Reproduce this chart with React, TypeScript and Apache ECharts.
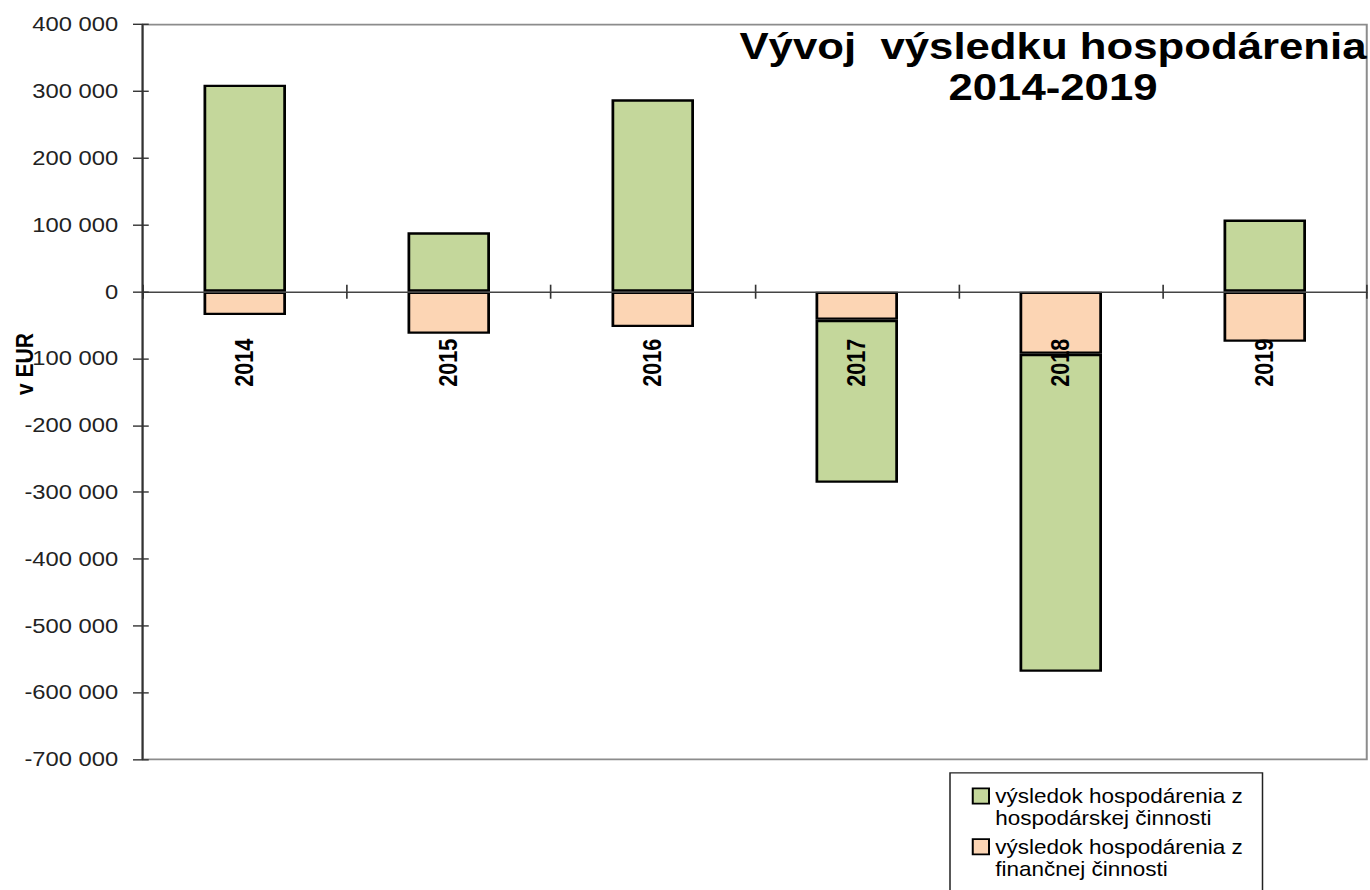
import React, { useEffect, useRef } from "react";
import * as echarts from "echarts";

const years = ["2014", "2015", "2016", "2017", "2018", "2019"];
const hospodarska = [310000, 89000, 288000, -244000, -476000, 108000];
const financna = [-35000, -63000, -53000, -42000, -93000, -75000];
const yMin = -700000;
const yMax = 400000;
const yStep = 100000;
const seriesNames = [
  "výsledok hospodárenia z hospodárskej činnosti",
  "výsledok hospodárenia z finančnej činnosti",
];
const titleLines = ["Vývoj  výsledku hospodárenia", "2014-2019"];
const yAxisTitle = "v EUR";

const FONT = "'Liberation Sans', Arial, sans-serif";
const W = 1096;
const H = 824;
const SX = 1370 / W;
const SY = 890 / H;

const GRID_TOP = 22.7;
const GRID_BOTTOM = 121;
const zeroOffset = () => {
  const h = H - GRID_TOP - GRID_BOTTOM;
  const zeroY = GRID_TOP + (h * (yMax - 0)) / (yMax - yMin);
  return -(H - GRID_BOTTOM - zeroY);
};

const fmt = (v: number) => {
  const s = Math.abs(v)
    .toString()
    .replace(/\B(?=(\d{3})+(?!\d))/g, " ");
  return (v < 0 ? "-" : "") + s;
};

export default function App() {
  const ref = useRef<HTMLDivElement>(null);
  useEffect(() => {
    if (!ref.current) return;
    const chart = echarts.init(ref.current, null, { renderer: "svg", width: W, height: H });
    const tickLine = { color: "#333", width: 1.3 };
    const off = zeroOffset();
    chart.setOption({
      animation: false,
      backgroundColor: "#fff",
      textStyle: { fontFamily: FONT },
      grid: {
        left: 114.2,
        right: 2.6,
        top: GRID_TOP,
        bottom: GRID_BOTTOM,
        show: true,
        borderColor: "#8c8c8c",
        borderWidth: 1.6,
      },
      xAxis: [
        {
          type: "category",
          data: years,
          position: "bottom",
          offset: off,
          z: 5,
          axisLine: { onZero: false, lineStyle: { color: "#444", width: 1.4 } },
          axisTick: { show: true, inside: false, length: 6.5, lineStyle: tickLine },
          axisLabel: {
            rotate: 90,
            margin: 43.5,
            fontSize: 20,
            fontWeight: "bold",
            color: "#000",
            interval: 0,
            fontFamily: FONT,
          },
          splitLine: { show: false },
        },
        {
          type: "category",
          data: years,
          position: "bottom",
          offset: off,
          z: 5,
          axisLine: { show: false, onZero: false },
          axisTick: { show: true, inside: true, length: 6.5, lineStyle: tickLine },
          axisLabel: { show: false },
          splitLine: { show: false },
        },
      ],
      yAxis: [
        {
          type: "value",
          min: yMin,
          max: yMax,
          interval: yStep,
          position: "left",
          z: 5,
          axisLine: { show: true, onZero: false, lineStyle: { color: "#333", width: 1.6 } },
          axisTick: { show: true, length: 7.8, lineStyle: tickLine },
          axisLabel: { formatter: fmt, fontSize: 19, color: "#222", margin: 19.7, fontFamily: FONT },
          splitLine: { show: false },
        },
        {
          type: "value",
          min: yMin,
          max: yMax,
          interval: yStep,
          position: "left",
          z: 5,
          axisLine: { show: false, onZero: false },
          axisTick: { show: true, inside: true, length: 4.8, lineStyle: tickLine },
          axisLabel: { show: false },
          splitLine: { show: false },
        },
      ],
      legend: {
        data: [seriesNames[0], seriesNames[1]],
        orient: "vertical",
        left: 777.4,
        top: 706.25,
        padding: 0,
        itemGap: -14.5,
        itemWidth: 13,
        itemHeight: 14,
        icon: "rect",
        selectedMode: false,
        itemStyle: { borderColor: "#000", borderWidth: 1.6 },
        formatter: (n: string) => "\n" + n.replace(" z ", " z\n"),
        textStyle: {
          fontSize: 18,
          color: "#000",
          lineHeight: 20.5,
          fontFamily: FONT,
        },
      },
      graphic: [
        {
          type: "rect",
          z: -1,
          shape: { x: 760, y: 715.5, width: 250, height: 130 },
          style: { fill: "#fff", stroke: "#222", lineWidth: 1.2 },
        },
        {
          type: "text",
          x: 842.4,
          y: 62,
          z: 10,
          style: {
            text: titleLines.join("\n"),
            fontSize: 35,
            fontWeight: "bold",
            fontFamily: FONT,
            fill: "#000",
            align: "center",
            verticalAlign: "middle",
            lineHeight: 38,
          },
        },
        {
          type: "text",
          x: 19.5,
          y: 337,
          rotation: Math.PI / 2,
          z: 10,
          style: {
            text: yAxisTitle,
            fontSize: 19.5,
            fontWeight: "bold",
            fontFamily: FONT,
            fill: "#000",
            align: "center",
            verticalAlign: "middle",
          },
        },
      ],
      series: [
        {
          name: seriesNames[1],
          type: "bar",
          stack: "total",
          data: financna,
          barWidth: 66,
          xAxisIndex: 0,
          yAxisIndex: 0,
          itemStyle: { color: "#fcd5b4", borderColor: "#000", borderWidth: 2.2 },
        },
        {
          name: seriesNames[0],
          type: "bar",
          stack: "total",
          data: hospodarska,
          barWidth: 66,
          xAxisIndex: 0,
          yAxisIndex: 0,
          itemStyle: { color: "#c4d79b", borderColor: "#000", borderWidth: 2.2 },
        },
      ],
    });
    return () => chart.dispose();
  }, []);

  return (
    <div
      style={{
        position: "fixed",
        left: 0,
        top: 0,
        width: 1370,
        height: 890,
        overflow: "hidden",
        background: "#fff",
      }}
    >
      <div
        ref={ref}
        style={{
          width: W,
          height: H,
          transform: `scale(${SX}, ${SY})`,
          transformOrigin: "0 0",
        }}
      />
    </div>
  );
}
